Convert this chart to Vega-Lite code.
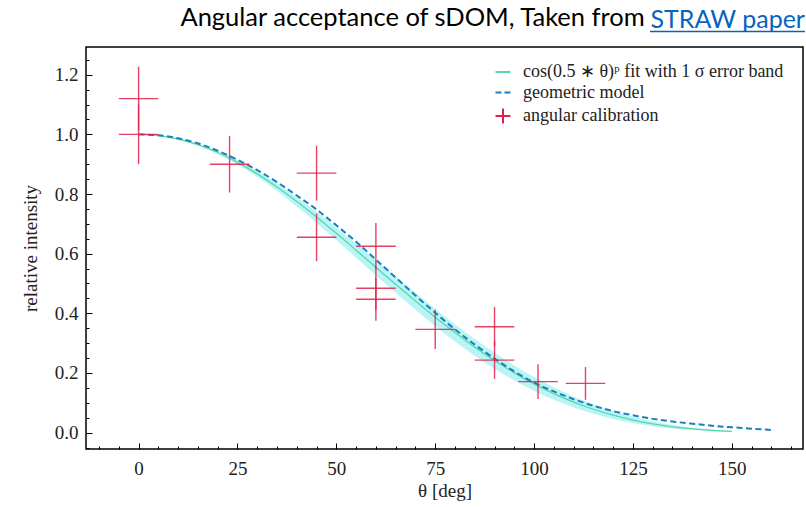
{
  "$schema": "https://vega.github.io/schema/vega-lite/v6.json",
  "width": 717,
  "height": 402,
  "autosize": {"type": "none"},
  "padding": {"left": 86, "top": 47, "right": 3, "bottom": 58},
  "title": {
    "text": "Angular acceptance of sDOM, Taken from",
    "anchor": "end",
    "dx": -161,
    "dy": 25,
    "font": "Lato",
    "fontSize": 25.5,
    "fontWeight": "normal",
    "color": "#000000",
    "baseline": "alphabetic",
    "offset": -19
  },
  "config": {
    "view": {"stroke": "#000000", "strokeWidth": 1.5},
    "axis": {
      "grid": false,
      "domain": false,
      "tickColor": "#000000",
      "tickWidth": 1,
      "labelFont": "Liberation Serif",
      "labelFontSize": 19,
      "labelColor": "#222222",
      "titleFont": "Liberation Serif",
      "titleFontSize": 19,
      "titleFontWeight": "normal",
      "titleColor": "#222222"
    }
  },
  "datasets": {
    "fit": [
      {"theta": 0, "fit": 1.0, "lo": 1.0, "hi": 1.0},
      {"theta": 5, "fit": 0.9961, "lo": 0.9958, "hi": 0.9964},
      {"theta": 10, "fit": 0.9845, "lo": 0.9832, "hi": 0.9856},
      {"theta": 15, "fit": 0.9654, "lo": 0.9625, "hi": 0.9679},
      {"theta": 20, "fit": 0.9392, "lo": 0.9341, "hi": 0.9435},
      {"theta": 25, "fit": 0.9063, "lo": 0.8988, "hi": 0.9129},
      {"theta": 30, "fit": 0.8675, "lo": 0.857, "hi": 0.8766},
      {"theta": 35, "fit": 0.8234, "lo": 0.8099, "hi": 0.8352},
      {"theta": 40, "fit": 0.7749, "lo": 0.7582, "hi": 0.7895},
      {"theta": 45, "fit": 0.7228, "lo": 0.7031, "hi": 0.7402},
      {"theta": 50, "fit": 0.6681, "lo": 0.6455, "hi": 0.6881},
      {"theta": 55, "fit": 0.6116, "lo": 0.5865, "hi": 0.6341},
      {"theta": 60, "fit": 0.5544, "lo": 0.5272, "hi": 0.5789},
      {"theta": 65, "fit": 0.4974, "lo": 0.4686, "hi": 0.5235},
      {"theta": 70, "fit": 0.4413, "lo": 0.4116, "hi": 0.4686},
      {"theta": 75, "fit": 0.3871, "lo": 0.357, "hi": 0.4149},
      {"theta": 80, "fit": 0.3353, "lo": 0.3054, "hi": 0.3632},
      {"theta": 85, "fit": 0.2866, "lo": 0.2576, "hi": 0.3141},
      {"theta": 90, "fit": 0.2415, "lo": 0.2139, "hi": 0.268},
      {"theta": 95, "fit": 0.2003, "lo": 0.1746, "hi": 0.2253},
      {"theta": 100, "fit": 0.1633, "lo": 0.1399, "hi": 0.1865},
      {"theta": 105, "fit": 0.1307, "lo": 0.1099, "hi": 0.1517},
      {"theta": 110, "fit": 0.1024, "lo": 0.0843, "hi": 0.1209},
      {"theta": 115, "fit": 0.0783, "lo": 0.063, "hi": 0.0944},
      {"theta": 120, "fit": 0.0583, "lo": 0.0457, "hi": 0.0718},
      {"theta": 125, "fit": 0.0421, "lo": 0.0321, "hi": 0.0531},
      {"theta": 130, "fit": 0.0293, "lo": 0.0216, "hi": 0.0379},
      {"theta": 135, "fit": 0.0195, "lo": 0.0139, "hi": 0.026},
      {"theta": 140, "fit": 0.0123, "lo": 0.0084, "hi": 0.017},
      {"theta": 145, "fit": 0.0073, "lo": 0.0048, "hi": 0.0104},
      {"theta": 150, "fit": 0.0039, "lo": 0.0024, "hi": 0.0059}
    ],
    "geo": [
      {"theta": 0, "model": 1.0},
      {"theta": 5, "model": 0.997},
      {"theta": 10, "model": 0.987},
      {"theta": 15, "model": 0.97},
      {"theta": 20, "model": 0.945},
      {"theta": 25, "model": 0.915},
      {"theta": 30, "model": 0.88},
      {"theta": 35, "model": 0.84},
      {"theta": 40, "model": 0.795},
      {"theta": 45, "model": 0.748},
      {"theta": 50, "model": 0.695},
      {"theta": 55, "model": 0.64},
      {"theta": 60, "model": 0.58},
      {"theta": 65, "model": 0.52},
      {"theta": 70, "model": 0.46},
      {"theta": 75, "model": 0.402},
      {"theta": 80, "model": 0.346},
      {"theta": 85, "model": 0.295},
      {"theta": 90, "model": 0.248},
      {"theta": 95, "model": 0.205},
      {"theta": 100, "model": 0.168},
      {"theta": 105, "model": 0.138},
      {"theta": 110, "model": 0.112},
      {"theta": 115, "model": 0.09},
      {"theta": 120, "model": 0.072},
      {"theta": 125, "model": 0.058},
      {"theta": 130, "model": 0.046},
      {"theta": 135, "model": 0.037},
      {"theta": 140, "model": 0.03},
      {"theta": 145, "model": 0.023},
      {"theta": 150, "model": 0.018},
      {"theta": 155, "model": 0.013},
      {"theta": 160, "model": 0.009}
    ],
    "cal": [
      {"theta": 0, "val": 1.12, "lo": 1.013, "hi": 1.227, "xlo": -5, "xhi": 5},
      {"theta": 0, "val": 1.0, "lo": 0.9, "hi": 1.1, "xlo": -5, "xhi": 5},
      {"theta": 23, "val": 0.9, "lo": 0.805, "hi": 0.995, "xlo": 18, "xhi": 28},
      {"theta": 45, "val": 0.87, "lo": 0.778, "hi": 0.962, "xlo": 40, "xhi": 50},
      {"theta": 45, "val": 0.655, "lo": 0.575, "hi": 0.735, "xlo": 40, "xhi": 50},
      {"theta": 60, "val": 0.625, "lo": 0.547, "hi": 0.703, "xlo": 55, "xhi": 65},
      {"theta": 60, "val": 0.484, "lo": 0.411, "hi": 0.557, "xlo": 55, "xhi": 65},
      {"theta": 60, "val": 0.447, "lo": 0.375, "hi": 0.519, "xlo": 55, "xhi": 65},
      {"theta": 75, "val": 0.346, "lo": 0.28, "hi": 0.412, "xlo": 70, "xhi": 80},
      {"theta": 90, "val": 0.355, "lo": 0.289, "hi": 0.421, "xlo": 85, "xhi": 95},
      {"theta": 90, "val": 0.243, "lo": 0.18, "hi": 0.306, "xlo": 85, "xhi": 95},
      {"theta": 101, "val": 0.171, "lo": 0.113, "hi": 0.229, "xlo": 96, "xhi": 106},
      {"theta": 113, "val": 0.165, "lo": 0.11, "hi": 0.22, "xlo": 108, "xhi": 118}
    ],
    "note": [{"label": "STRAW paper"}]
  },
  "layer": [
    {
      "data": {"name": "fit"},
      "mark": {"type": "area", "color": "#66e6ee", "opacity": 0.45, "interpolate": "monotone"},
      "encoding": {
        "x": {"field": "theta", "type": "quantitative",
          "scale": {"domain": [-13.3, 168], "nice": false, "zero": false},
          "axis": {"orient": "bottom", "values": [0, 25, 50, 75, 100, 125, 150], "tickSize": -6, "labelPadding": 16, "title": "θ [deg]", "titlePadding": 3}},
        "y": {"field": "lo", "type": "quantitative",
          "scale": {"domain": [-0.055, 1.293], "nice": false, "zero": false},
          "axis": {"orient": "left", "values": [0, 0.2, 0.4, 0.6, 0.8, 1.0, 1.2], "format": ".1f", "tickSize": -6, "labelPadding": 14, "title": "relative intensity", "titlePadding": 14}},
        "y2": {"field": "hi"}
      }
    },
    {
      "data": {"name": "cal"},
      "mark": {"type": "point", "opacity": 0},
      "encoding": {
        "x": {"field": "theta", "type": "quantitative",
          "scale": {"domain": [-13.3, 168], "nice": false, "zero": false},
          "axis": {"orient": "bottom", "values": [-10, -5, 5, 10, 15, 20, 30, 35, 40, 45, 55, 60, 65, 70, 80, 85, 90, 95, 105, 110, 115, 120, 130, 135, 140, 145, 155, 160, 165], "labels": false, "tickSize": -3, "title": null}},
        "y": {"field": "val", "type": "quantitative",
          "scale": {"domain": [-0.055, 1.293], "nice": false, "zero": false},
          "axis": {"orient": "left", "values": [-0.05, 0.05, 0.1, 0.15, 0.25, 0.3, 0.35, 0.45, 0.5, 0.55, 0.65, 0.7, 0.75, 0.85, 0.9, 0.95, 1.05, 1.1, 1.15, 1.25], "labels": false, "tickSize": -3, "title": null}}
      }
    },
    {
      "data": {"name": "fit"},
      "mark": {"type": "line", "strokeWidth": 1.3, "interpolate": "monotone"},
      "encoding": {
        "x": {"field": "theta", "type": "quantitative", "scale": {"domain": [-13.3, 168], "nice": false, "zero": false}, "axis": null},
        "y": {"field": "fit", "type": "quantitative", "scale": {"domain": [-0.055, 1.293], "nice": false, "zero": false}, "axis": null},
        "color": {
          "datum": "cos(0.5 ∗ θ)ᵖ fit with 1 σ error band",
          "type": "nominal",
          "scale": {
            "domain": ["cos(0.5 ∗ θ)ᵖ fit with 1 σ error band", "geometric model", "angular calibration"],
            "range": ["#55d9a8", "#1a80bb", "#e0204a"]
          },
          "legend": {
            "orient": "none",
            "legendX": 408,
            "legendY": 16,
            "title": null,
            "padding": 0,
            "symbolType": "stroke",
            "symbolSize": 225,
            "symbolStrokeWidth": 2,
            "labelFont": "Liberation Serif",
            "labelFontSize": 18,
            "labelColor": "#222222",
            "labelOffset": 11,
            "rowPadding": 2.5,
            "labelLimit": 400,
            "encode": {
              "symbols": {
                "update": {
                  "shape": {"signal": "datum.value === 'angular calibration' ? 'M-1,0L1,0M0,-1L0,1' : 'stroke'"},
                  "strokeDash": {"signal": "datum.value === 'geometric model' ? [6, 3] : [1, 0]"}
                }
              }
            }
          }
        }
      }
    },
    {
      "data": {"name": "geo"},
      "mark": {"type": "line", "strokeWidth": 2, "strokeDash": [6, 3.5], "interpolate": "monotone"},
      "encoding": {
        "x": {"field": "theta", "type": "quantitative", "scale": {"domain": [-13.3, 168], "nice": false, "zero": false}, "axis": null},
        "y": {"field": "model", "type": "quantitative", "scale": {"domain": [-0.055, 1.293], "nice": false, "zero": false}, "axis": null},
        "color": {"datum": "geometric model", "type": "nominal"}
      }
    },
    {
      "data": {"name": "cal"},
      "mark": {"type": "rule", "strokeWidth": 1.4, "opacity": 0.85},
      "encoding": {
        "x": {"field": "theta", "type": "quantitative", "scale": {"domain": [-13.3, 168], "nice": false, "zero": false}, "axis": null},
        "y": {"field": "lo", "type": "quantitative", "scale": {"domain": [-0.055, 1.293], "nice": false, "zero": false}, "axis": null},
        "y2": {"field": "hi"},
        "color": {"datum": "angular calibration", "type": "nominal"}
      }
    },
    {
      "data": {"name": "cal"},
      "mark": {"type": "rule", "strokeWidth": 1.4, "opacity": 0.85},
      "encoding": {
        "x": {"field": "xlo", "type": "quantitative", "scale": {"domain": [-13.3, 168], "nice": false, "zero": false}, "axis": null},
        "x2": {"field": "xhi"},
        "y": {"field": "val", "type": "quantitative", "scale": {"domain": [-0.055, 1.293], "nice": false, "zero": false}, "axis": null},
        "color": {"datum": "angular calibration", "type": "nominal"}
      }
    },
    {
      "data": {"name": "note"},
      "mark": {"type": "text", "align": "right", "baseline": "alphabetic", "font": "Lato", "fontSize": 25, "color": "#0563c1", "clip": false},
      "encoding": {
        "x": {"datum": 168.5, "type": "quantitative", "scale": {"domain": [-13.3, 168], "nice": false, "zero": false}, "axis": null},
        "y": {"datum": 1.357, "type": "quantitative", "scale": {"domain": [-0.055, 1.293], "nice": false, "zero": false}, "axis": null},
        "text": {"field": "label"}
      }
    },
    {
      "data": {"name": "note"},
      "mark": {"type": "rule", "color": "#0563c1", "strokeWidth": 1.5, "clip": false},
      "encoding": {
        "x": {"datum": 129.3, "type": "quantitative", "scale": {"domain": [-13.3, 168], "nice": false, "zero": false}, "axis": null},
        "x2": {"datum": 168.5},
        "y": {"datum": 1.345, "type": "quantitative", "scale": {"domain": [-0.055, 1.293], "nice": false, "zero": false}, "axis": null}
      }
    }
  ],
  "resolve": {"axis": {"x": "independent", "y": "independent"}}
}
